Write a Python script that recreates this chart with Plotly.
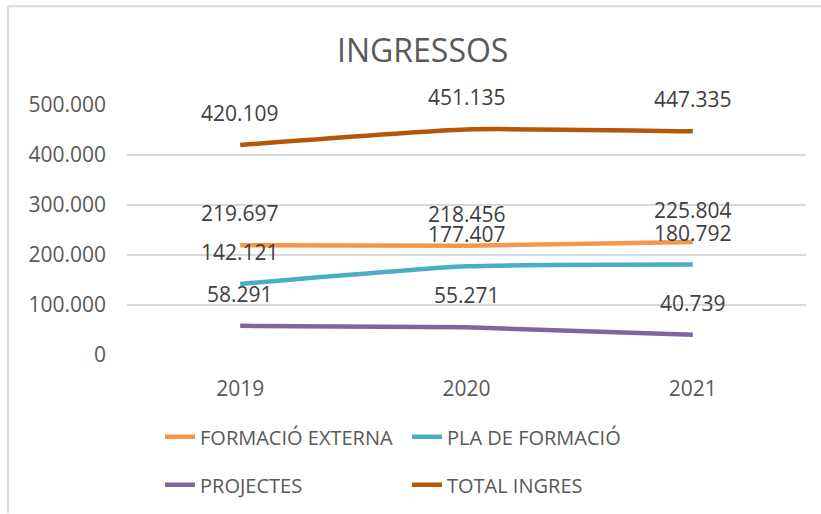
import plotly.graph_objects as go

# Data
years = ['2019', '2020', '2021']
formacio_externa = [219697, 218456, 225804]
pla_formacio = [142121, 177407, 180792]
projectes = [58291, 55271, 40739]
total_ingres = [420109, 451135, 447335]

y_ticks = [0, 100000, 200000, 300000, 400000, 500000]
y_tick_text = ['0', '100.000', '200.000', '300.000', '400.000', '500.000']

series = [
    ('FORMACIÓ EXTERNA', formacio_externa, '#F79646', 'legend'),
    ('PLA DE FORMACIÓ', pla_formacio, '#4BACC6', 'legend'),
    ('PROJECTES', projectes, '#8064A2', 'legend2'),
    ('TOTAL INGRES', total_ingres, '#B65708', 'legend2'),
]

FONT = 'Open Sans'
GREY = '#595959'

# plot area in pixels
L, R, T, B = 127, 806, 105, 355.5


def px_x(s):
    return (s - L) / (R - L)


def px_y(s):
    return (B - s) / (B - T)


fig = go.Figure()

annotations = []
for name, vals, color, leg in series:
    fig.add_trace(go.Scatter(
        x=years, y=vals, mode='lines', name=name,
        line=dict(color=color, width=4.5, shape='spline', smoothing=0.5),
        legend=leg,
    ))
    # data labels above each point (x as category index)
    for i, v in enumerate(vals):
        annotations.append(dict(
            x=i, y=v, xref='x', yref='y',
            text=f"{v:,}".replace(',', '.'),
            showarrow=False, yshift=32,
            font=dict(family=FONT, size=21, color='#404040'),
        ))

# title
annotations.append(dict(
    text='INGRESSOS', x=px_x(422), xref='paper',
    y=px_y(49), yref='paper', yanchor='middle',
    showarrow=False, font=dict(family=FONT, size=32, color=GREY),
))

legend_style = dict(
    orientation='h', x=px_x(160), xanchor='left', yanchor='middle',
    entrywidth=202, entrywidthmode='pixels',
    font=dict(family=FONT, size=20, color=GREY), bgcolor='rgba(0,0,0,0)',
)

fig.update_layout(
    width=821, height=514,
    margin=dict(l=L, r=821 - R, t=T, b=514 - B, autoexpand=False),
    paper_bgcolor='white', plot_bgcolor='white',
    font=dict(family=FONT, color=GREY),
    annotations=annotations,
    xaxis=dict(
        type='category', categoryorder='array', categoryarray=years,
        range=[-0.5, 2.5], showgrid=False, zeroline=False, showline=False,
        tickfont=dict(size=21, color=GREY), ticklabelstandoff=19,
    ),
    yaxis=dict(
        range=[0, 500000], tickvals=y_ticks, ticktext=y_tick_text,
        showgrid=True, gridcolor='#D9D9D9', gridwidth=1.5,
        zeroline=False, showline=False,
        tickfont=dict(size=21, color=GREY), ticklabelstandoff=20,
    ),
    legend=dict(legend_style, y=px_y(437.5)),
    legend2=dict(legend_style, y=px_y(485.5)),
)

# chart border (left and top edges visible)
fig.add_shape(type='line', xref='paper', yref='paper',
              x0=px_x(8), x1=px_x(821), y0=px_y(6), y1=px_y(6),
              line=dict(color='#D9D9D9', width=2))
fig.add_shape(type='line', xref='paper', yref='paper',
              x0=px_x(8), x1=px_x(8), y0=px_y(6), y1=px_y(514),
              line=dict(color='#D9D9D9', width=2))

# drop the browser's default body margin so the figure sits at the page corner
fig.write_html("out.html", config={'displayModeBar': False},
               post_script="document.body.style.margin='0';")
